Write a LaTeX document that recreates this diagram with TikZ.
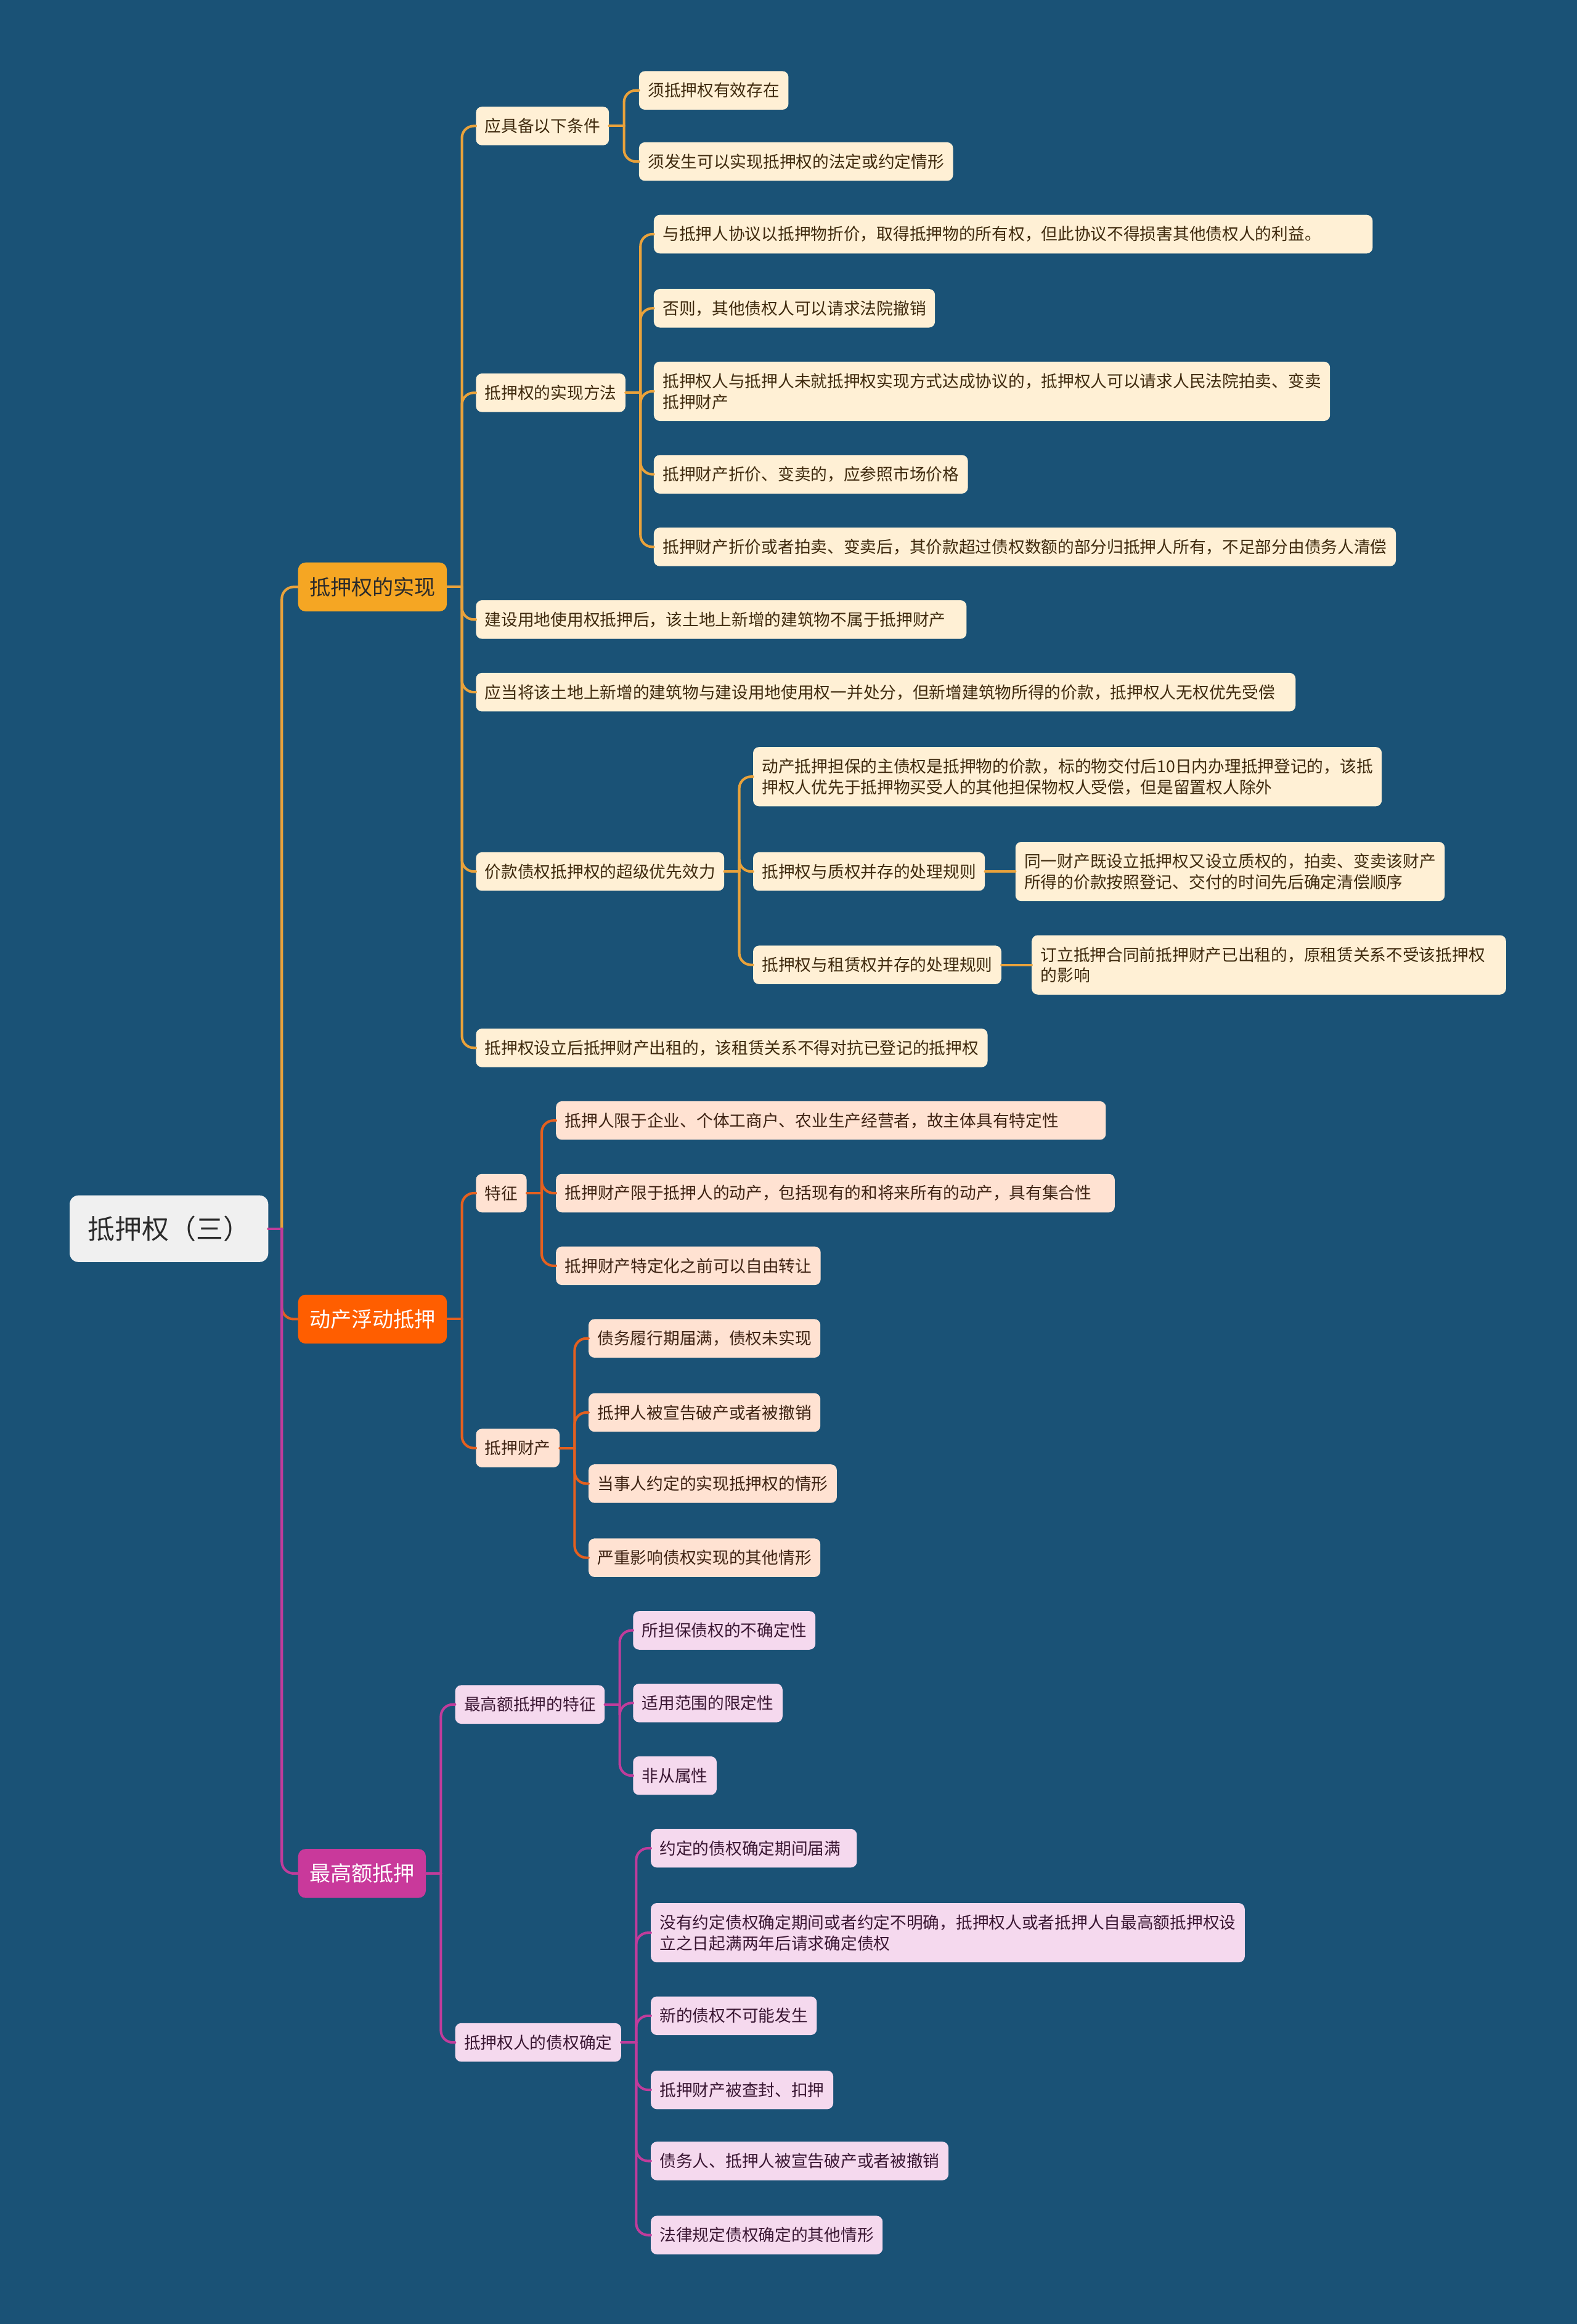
\documentclass[tikz,border=0pt]{standalone}
\usepackage{fontspec}
\setmainfont{Noto Sans CJK SC}
\usepackage{tikz}
\usetikzlibrary{calc}
\definecolor{sk-bg}{HTML}{1A5276}
\definecolor{sk-root}{HTML}{F0F0F0}
\definecolor{sk-rootink}{HTML}{2B2B2B}
\definecolor{sk-gold}{HTML}{F5A623}
\definecolor{sk-goldline}{HTML}{E9A23B}
\definecolor{sk-cream}{HTML}{FFF0D5}
\definecolor{sk-brown}{HTML}{3F2A0E}
\definecolor{sk-orange}{HTML}{FF5E00}
\definecolor{sk-orangeline}{HTML}{E5601F}
\definecolor{sk-peach}{HTML}{FFE2D2}
\definecolor{sk-rust}{HTML}{3E2313}
\definecolor{sk-magenta}{HTML}{C9399B}
\definecolor{sk-magline}{HTML}{C03C9B}
\definecolor{sk-pink}{HTML}{F5D9EE}
\definecolor{sk-plum}{HTML}{3A1733}

\begin{document}
\begin{tikzpicture}[x=0.5mm, y=-0.5mm, line cap=round, line join=round,
  rootbox/.style={fill=sk-root, text=sk-rootink, rounded corners=3mm, minimum width=67mm,
    minimum height=22.5mm, font=\fontsize{26pt}{30pt}\selectfont},
  topic/.style={anchor=west, rounded corners=2.5mm, inner xsep=3.8mm, inner ysep=0pt,
    minimum height=16.5mm, font=\fontsize{20.2pt}{24pt}\selectfont},
  leaf/.style={anchor=west, rounded corners=2mm, inner xsep=3mm, inner ysep=0pt,
    minimum height=13mm, align=left, font=\fontsize{15.8pt}{20pt}\selectfont},
  two/.style={minimum height=20mm},
  leafA/.style={leaf, fill=sk-cream, text=sk-brown},
  leafB/.style={leaf, fill=sk-peach, text=sk-rust},
  leafC/.style={leaf, fill=sk-pink, text=sk-plum},
  linkA/.style={draw=sk-goldline, line width=0.85mm},
  linkB/.style={draw=sk-orangeline, line width=0.85mm},
  linkC/.style={draw=sk-magline, line width=0.85mm}]
  % baggrund
  \fill[sk-bg] (0,0) rectangle (1064,1568);
  \useasboundingbox (0,0) rectangle (1064,1568);
  % rod og hovedgrene
  \node[rootbox] (root) at (114,829) {抵押权（三）};
  \node[topic, fill=sk-gold, text=sk-rootink] (b1) at (201,396) {抵押权的实现};
  \node[topic, fill=sk-orange, text=white] (b2) at (201,890) {动产浮动抵押};
  \node[topic, fill=sk-magenta, text=white] (b3) at (201,1264) {最高额抵押};
  % gren 1
  \node[leafA] (a1) at (321,85) {应具备以下条件};
  \node[leafA] (a11) at (431,61) {须抵押权有效存在};
  \node[leafA] (a12) at (431,109) {须发生可以实现抵押权的法定或约定情形};
  \node[leafA] (a2) at (321,265) {抵押权的实现方法};
  \node[leafA, text width=236.5mm] (a21) at (441,158) {与抵押人协议以抵押物折价，取得抵押物的所有权，但此协议不得损害其他债权人的利益。};
  \node[leafA] (a22) at (441,208) {否则，其他债权人可以请求法院撤销};
  \node[leafA, two] (a23) at (441,264) {抵押权人与抵押人未就抵押权实现方式达成协议的，抵押权人可以请求人民法院拍卖、变卖\\抵押财产};
  \node[leafA] (a24) at (441,320) {抵押财产折价、变卖的，应参照市场价格};
  \node[leafA] (a25) at (441,369) {抵押财产折价或者拍卖、变卖后，其价款超过债权数额的部分归抵押人所有，不足部分由债务人清偿};
  \node[leafA, text width=159.5mm] (a3) at (321,418) {建设用地使用权抵押后，该土地上新增的建筑物不属于抵押财产};
  \node[leafA, text width=270.5mm] (a4) at (321,467) {应当将该土地上新增的建筑物与建设用地使用权一并处分，但新增建筑物所得的价款，抵押权人无权优先受偿};
  \node[leafA] (a5) at (321,588) {价款债权抵押权的超级优先效力};
  \node[leafA, two] (a51) at (508,524) {动产抵押担保的主债权是抵押物的价款，标的物交付后10日内办理抵押登记的，该抵\\押权人优先于抵押物买受人的其他担保物权人受偿，但是留置权人除外};
  \node[leafA] (a52) at (508,588) {抵押权与质权并存的处理规则};
  \node[leafA, two] (a521) at (685,588) {同一财产既设立抵押权又设立质权的，拍卖、变卖该财产\\所得的价款按照登记、交付的时间先后确定清偿顺序};
  \node[leafA] (a53) at (508,651) {抵押权与租赁权并存的处理规则};
  \node[leafA, two, text width=154mm] (a531) at (696,651) {订立抵押合同前抵押财产已出租的，原租赁关系不受该抵押权\\的影响};
  \node[leafA] (a6) at (321,707) {抵押权设立后抵押财产出租的，该租赁关系不得对抗已登记的抵押权};
  % gren 2
  \node[leafB] (c1) at (321,805) {特征};
  \node[leafB, text width=179.5mm] (c11) at (375,756) {抵押人限于企业、个体工商户、农业生产经营者，故主体具有特定性};
  \node[leafB, text width=182.5mm] (c12) at (375,805) {抵押财产限于抵押人的动产，包括现有的和将来所有的动产，具有集合性};
  \node[leafB] (c13) at (375,854) {抵押财产特定化之前可以自由转让};
  \node[leafB] (c2) at (321,977) {抵押财产};
  \node[leafB] (c21) at (397,903) {债务履行期届满，债权未实现};
  \node[leafB] (c22) at (397,953) {抵押人被宣告破产或者被撤销};
  \node[leafB] (c23) at (397,1001) {当事人约定的实现抵押权的情形};
  \node[leafB] (c24) at (397,1051) {严重影响债权实现的其他情形};
  % gren 3
  \node[leafC] (d1) at (307,1150) {最高额抵押的特征};
  \node[leafC] (d11) at (427,1100) {所担保债权的不确定性};
  \node[leafC] (d12) at (427,1149) {适用范围的限定性};
  \node[leafC] (d13) at (427,1198) {非从属性};
  \node[leafC] (d2) at (307,1378) {抵押权人的债权确定};
  \node[leafC, text width=63.5mm] (d21) at (439,1247) {约定的债权确定期间届满};
  \node[leafC, two] (d22) at (439,1304) {没有约定债权确定期间或者约定不明确，抵押权人或者抵押人自最高额抵押权设\\立之日起满两年后请求确定债权};
  \node[leafC] (d23) at (439,1360) {新的债权不可能发生};
  \node[leafC] (d24) at (439,1410) {抵押财产被查封、扣押};
  \node[leafC] (d25) at (439,1458) {债务人、抵押人被宣告破产或者被撤销};
  \node[leafC] (d26) at (439,1508) {法律规定债权确定的其他情形};
  % forbindelser fra roden
  \coordinate (rj) at ($(root.east)+(9,0)$);
  \foreach \b/\s in {b1/linkA, b2/linkB, b3/linkC}{
    \draw[\s] (root.east) -- (rj);
    \draw[\s, rounded corners=4mm] (rj) |- (\b.west);
  }
  % forbindelser i grenene
  \foreach \p/\kids/\s in {b1/{a1,a2,a3,a4,a5,a6}/linkA, a1/{a11,a12}/linkA,
      a2/{a21,a22,a23,a24,a25}/linkA, a5/{a51,a52,a53}/linkA,
      b2/{c1,c2}/linkB, c1/{c11,c12,c13}/linkB,
      c2/{c21,c22,c23,c24}/linkB, b3/{d1,d2}/linkC, d1/{d11,d12,d13}/linkC,
      d2/{d21,d22,d23,d24,d25,d26}/linkC}{
    \coordinate (j) at ($(\p.east)+(10,0)$);
    \draw[\s] (\p.east) -- (j);
    \foreach \k in \kids
      \draw[\s, rounded corners=4mm] (j) |- (\k.west);
  }
  % enkelte barn
  \draw[linkA] (a52.east) -- (a521.west);
  \draw[linkA] (a53.east) -- (a531.west);
\end{tikzpicture}
\end{document}
